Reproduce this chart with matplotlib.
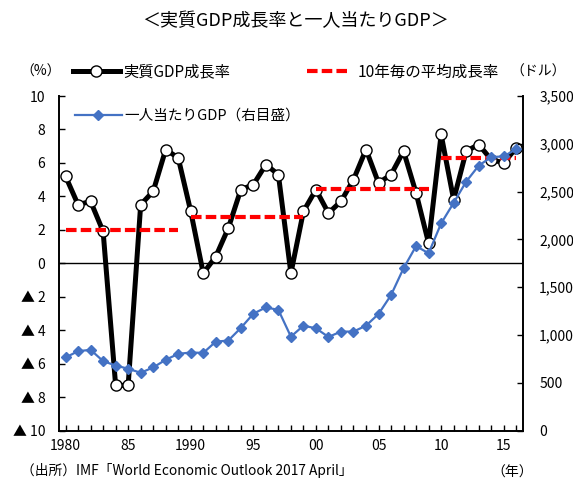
import matplotlib
matplotlib.use("Agg")
import matplotlib.pyplot as plt
from matplotlib.lines import Line2D

plt.rcParams['font.family'] = ['Noto Sans CJK JP', 'DejaVu Sans']
plt.rcParams['lines.scale_dashes'] = False

years = list(range(1980, 2017))
gdp_growth = [5.2, 3.5, 3.7, 1.9, -7.3, -7.3, 3.5, 4.3, 6.8, 6.3,
              3.1, -0.6, 0.4, 2.1, 4.4, 4.7, 5.9, 5.3, -0.6, 3.1,
              4.4, 3.0, 3.7, 5.0, 6.8, 4.8, 5.3, 6.7, 4.2, 1.2,
              7.7, 3.8, 6.7, 7.1, 6.2, 6.0, 6.9]
gdp_per_capita = [764, 830, 844, 726, 680, 646, 604, 660, 740, 802,
                  816, 812, 930, 941, 1073, 1222, 1288, 1262, 982, 1097,
                  1069, 979, 1035, 1035, 1097, 1219, 1417, 1698, 1930, 1854,
                  2167, 2382, 2604, 2771, 2861, 2868, 2945]
decade_starts = [1980, 1990, 2000, 2010]
decade_ends = [1989, 1999, 2009, 2016]
decade_avg = [2.0, 2.77, 4.44, 6.27]

left_ticks = list(range(-10, 11, 2))
left_labels = [str(v) if v >= 0 else f"▲ {-v}" for v in left_ticks]
right_ticks = list(range(0, 3501, 500))
right_labels = [f"{v:,}" for v in right_ticks]
x_label_years = [1980, 1985, 1990, 1995, 2000, 2005, 2010, 2015]
x_labels = ["1980", "85", "1990", "95", "00", "05", "10", "15"]

title = "＜実質GDP成長率と一人当たりGDP＞"
lbl_gdp = "実質GDP成長率"
lbl_avg = "10年毎の平均成長率"
lbl_pc = "一人当たりGDP（右目盛）"
source = "（出所）IMF「World Economic Outlook 2017 April」"

W, H = 573, 480
fig = plt.figure(figsize=(W / 100, H / 100), dpi=100)
L, R, T, B = 59.3, 522.5, 96, 430.5
ax = fig.add_axes([L / W, 1 - B / H, (R - L) / W, (B - T) / H])
ax2 = ax.twinx()

BLUE = '#4472C4'

ax.axhline(0, color='black', lw=1.0, zorder=1)
ax.plot(years, gdp_growth, color='black', lw=3.6, marker='o', ms=8,
        mfc='white', mec='black', mew=1.0, zorder=3)
for s, e, a in zip(decade_starts, decade_ends, decade_avg):
    ax.plot([s, e], [a, a], color='#FF0000', lw=3.0, dashes=(7.6, 3.0),
            zorder=4)
ax2.plot(years, gdp_per_capita, color=BLUE, lw=1.6, marker='D', ms=5.5,
         mfc=BLUE, mec=BLUE, zorder=5)

ax.set_xlim(1979.5, 2016.5)
ax.set_ylim(-10, 10)
ax2.set_ylim(0, 3500)

ax.set_xticks(years, minor=False)
ax.set_xticklabels([x_labels[x_label_years.index(y)] if y in x_label_years else ""
                    for y in years])
ax.set_yticks(left_ticks)
ax.set_yticklabels(left_labels)
ax2.set_yticks(right_ticks)
ax2.set_yticklabels(right_labels)

ax.tick_params(axis='x', direction='in', length=4, width=1, labelsize=10, pad=6)
ax.tick_params(axis='y', direction='in', length=4, width=1, labelsize=10, pad=10)
ax2.tick_params(axis='y', direction='in', length=4, width=1, labelsize=10, pad=12)

for sp in ['top', 'right']:
    ax.spines[sp].set_visible(False)
for sp in ['top', 'left', 'bottom']:
    ax2.spines[sp].set_visible(False)
for a in (ax, ax2):
    for sp in a.spines.values():
        sp.set_linewidth(1.4)

# legends
h_gdp = Line2D([], [], color='black', lw=3.6, marker='o', ms=8, mfc='white',
               mec='black', mew=1.0)
h_avg = Line2D([], [], color='#FF0000', lw=3.0, dashes=(7.6, 3.0))
h_pc = Line2D([], [], color=BLUE, lw=1.6, marker='D', ms=5.5, mfc=BLUE, mec=BLUE)

common = dict(frameon=False, borderpad=0, borderaxespad=0,
              loc='center left', numpoints=1)
fig.legend([h_gdp], [lbl_gdp], bbox_to_anchor=(73 / W, 1 - 72 / H),
           handlelength=3.07, handletextpad=0.2, fontsize=11, **common)
fig.legend([h_avg], [lbl_avg], bbox_to_anchor=(307 / W, 1 - 72 / H),
           handlelength=2.68, handletextpad=0.6, fontsize=11.2, **common)
fig.legend([h_pc], [lbl_pc], bbox_to_anchor=(75 / W, 1 - 116 / H),
           handlelength=3.2, handletextpad=0.2, fontsize=10.5, **common)

fig.text(295 / W, 1 - 21 / H, title, ha='center', va='center', fontsize=13)
fig.text(41 / W, 1 - 72 / H, "（%）", ha='center', va='center', fontsize=10)
fig.text(538 / W, 1 - 72 / H, "（ドル）", ha='center', va='center', fontsize=10)
fig.text(21 / W, 1 - 471 / H, source, ha='left', va='center', fontsize=9.9)
fig.text(512 / W, 1 - 473 / H, "（年）", ha='center', va='center', fontsize=10)

fig.savefig("out.png", dpi=100)
